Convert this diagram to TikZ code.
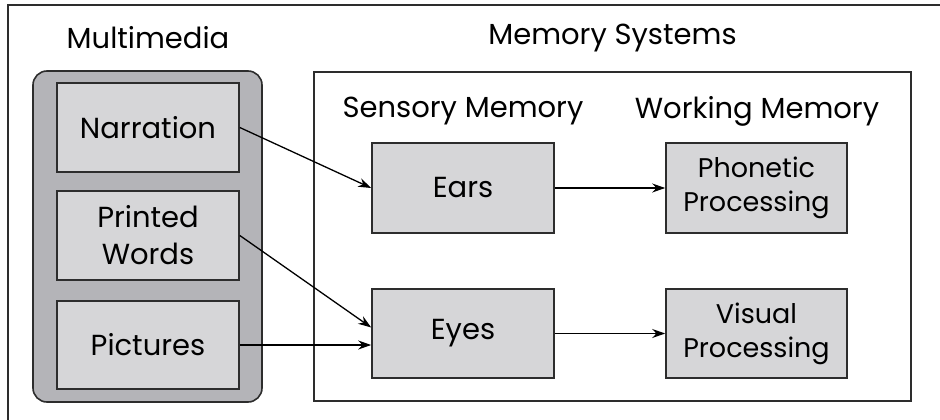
\documentclass[tikz,border=0pt]{standalone}
\usepackage{fontspec}
\setmainfont{Poppins}
\usetikzlibrary{arrows.meta}
\definecolor{boxfill}{RGB}{214,214,216}
\definecolor{groupfill}{RGB}{180,180,184}
\definecolor{edge}{RGB}{45,45,45}
\tikzset{
  stepbox/.style={draw=edge, line width=1.6pt, fill=boxfill, align=center,
    inner sep=0pt, font=\fontsize{29}{37}\selectfont},
  label/.style={font=\fontsize{29}{35}\selectfont, inner sep=0pt},
  conn/.style={line width=1.3pt, -{Stealth[length=13pt,width=9pt]}}
}
\begin{document}
\begin{tikzpicture}[x=1pt,y=-1pt]
\useasboundingbox (0,0) rectangle (940,420);
% outer frame (top and left only visible)
\draw[edge, line width=1.6pt] (8,420) -- (8,5) -- (940,5);
% multimedia group
\draw[edge, line width=1.6pt, fill=groupfill, rounded corners=14pt] (33,71) rectangle (262,402);
\node[label] (mmt) at (148,38) {Multimedia};
\node[stepbox, minimum width=182pt, minimum height=89pt] (narr) at (148,127.5) {Narration};
\node[stepbox, minimum width=182pt, minimum height=89pt] (print) at (148,235.5) {Printed\\Words};
\node[stepbox, minimum width=182pt, minimum height=88pt] (pict) at (148,345) {Pictures};
% memory systems
\draw[edge, line width=1.6pt] (314,72) rectangle (911,401);
\node[label] (mst) at (612.5,38) {Memory Systems};
\node[label] (smt) at (463,111) {Sensory Memory};
\node[label] (wmt) at (757,111) {Working Memory};
\node[stepbox, minimum width=182pt, minimum height=90pt] (ears) at (463,188) {Ears};
\node[stepbox, minimum width=182pt, minimum height=89pt] (eyes) at (463,333.5) {Eyes};
\node[stepbox, minimum width=181pt, minimum height=90pt, font=\fontsize{27}{34}\selectfont] (phon) at (756.5,188) {Phonetic\\Processing};
\node[stepbox, minimum width=181pt, minimum height=89pt, font=\fontsize{27}{34}\selectfont] (vis) at (756.5,333.5) {Visual\\Processing};
% connectors
\draw[conn] (narr.east) -- (ears.west);
\draw[conn] (print.east) -- ([yshift=6pt]eyes.west);
\draw[conn] (pict.east) -- (pict.east -| eyes.west);
\draw[conn] (ears.east) -- (phon.west);
\draw[conn] (eyes.east) -- (vis.west);
\end{tikzpicture}
\end{document}
